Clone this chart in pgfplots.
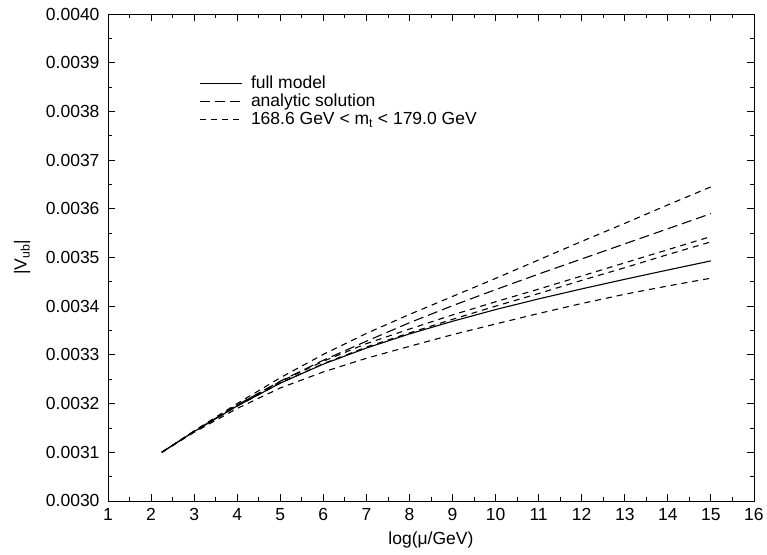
\documentclass[border=0pt]{standalone}
\usepackage{fontspec}
\setmainfont{Liberation Sans}
\usepackage{pgfplots}
\pgfplotsset{compat=1.18}

\newcommand{\fs}{\fontsize{17.5bp}{21bp}\selectfont}

\begin{document}
\begin{tikzpicture}
\begin{axis}[
  scale only axis,
  width=646bp, height=487bp,
  xmin=1, xmax=16, ymin=0.0030, ymax=0.0040,
  xtick={1,2,...,16},
  ytick={0.0030,0.0031,0.0032,0.0033,0.0034,0.0035,0.0036,0.0037,0.0038,0.0039,0.0040},
  minor x tick num=1, minor y tick num=1,
  xtick pos=both, ytick pos=both,
  tick align=inside,
  major tick length=7bp, minor tick length=4bp,
  scaled y ticks=false,
  /pgf/number format/assume math mode=true,
  tick label style={font=\fs},
  xticklabel style={yshift=-4bp},
  yticklabel style={xshift=-5bp},
  yticklabel={\pgfmathprintnumber[fixed, fixed zerofill, precision=4]{\tick}},
  xlabel={log(μ/GeV)},
  ylabel={|V\textsubscript{ub}|},
  every axis x label/.style={at={(axis description cs:0.5,-0.080)}, anchor=center, font=\fs},
  every axis y label/.style={at={(axis description cs:-0.133,0.5)}, rotate=90, anchor=center, font=\fs},
  axis line style={line width=0.8bp},
  every tick/.style={black, line width=0.8bp},
  legend image code/.code={\draw[#1] (0bp,0bp) -- (42bp,0bp);},
  legend style={at={(axis description cs:0.142,0.877)}, anchor=north west,
    draw=none, fill=none, font=\fs, row sep=0bp, inner sep=0pt,
    cells={anchor=west},
    /tikz/every odd column/.append style={column sep=6bp}},
]
% full model
\addplot[black, line width=1.1bp] coordinates {
  (2.25,0.0031000) (3,0.0031425) (4,0.0031950) (5,0.0032420) (6,0.0032810)
  (7,0.0033140) (8,0.0033430) (9,0.0033690) (10,0.0033930) (11,0.0034150)
  (12,0.0034355) (13,0.0034552) (14,0.0034743) (15,0.0034930)};
\addlegendentry{full model}
% analytic solution
\addplot[black, line width=1.1bp, dash pattern=on 10bp off 5bp] coordinates {
  (2.25,0.0031000) (3,0.0031430) (4,0.0031970) (5,0.0032460) (6,0.0032890)
  (7,0.0033280) (8,0.0033660) (9,0.0034010) (10,0.0034340) (11,0.0034660)
  (12,0.0034970) (13,0.0035280) (14,0.0035590) (15,0.0035900)};
\addlegendentry{analytic solution}
% m_t band: analytic upper
\addplot[black, line width=1.1bp, dash pattern=on 6bp off 5bp] coordinates {
  (2.25,0.0031000) (3,0.0031440) (4,0.0032000) (5,0.0032530) (6,0.0033010)
  (7,0.0033440) (8,0.0033830) (9,0.0034200) (10,0.0034570) (11,0.0034950)
  (12,0.0035330) (13,0.0035700) (14,0.0036080) (15,0.0036450)};
\addlegendentry{168.6 GeV < m\textsubscript{t} < 179.0 GeV}
% full model upper
\addplot[black, line width=1.1bp, dash pattern=on 6bp off 5bp, forget plot] coordinates {
  (2.25,0.0031000) (3,0.0031430) (4,0.0031970) (5,0.0032450) (6,0.0032870)
  (7,0.0033230) (8,0.0033530) (9,0.0033820) (10,0.0034090) (11,0.0034350)
  (12,0.0034620) (13,0.0034890) (14,0.0035160) (15,0.0035430)};
% analytic lower
\addplot[black, line width=1.1bp, dash pattern=on 6bp off 5bp, forget plot] coordinates {
  (2.25,0.0031000) (3,0.0031425) (4,0.0031950) (5,0.0032420) (6,0.0032820)
  (7,0.0033160) (8,0.0033450) (9,0.0033730) (10,0.0034000) (11,0.0034260)
  (12,0.0034530) (13,0.0034790) (14,0.0035060) (15,0.0035320)};
% full model lower
\addplot[black, line width=1.1bp, dash pattern=on 6bp off 5bp, forget plot] coordinates {
  (2.25,0.0031000) (3,0.0031410) (4,0.0031900) (5,0.0032320) (6,0.0032650)
  (7,0.0032930) (8,0.0033175) (9,0.0033415) (10,0.0033635) (11,0.0033850)
  (12,0.0034055) (13,0.0034245) (14,0.0034415) (15,0.0034575)};
\end{axis}
\path (current axis.south west) ++(-108bp,-54bp) rectangle ++(767bp,555bp);
\end{tikzpicture}
\end{document}
